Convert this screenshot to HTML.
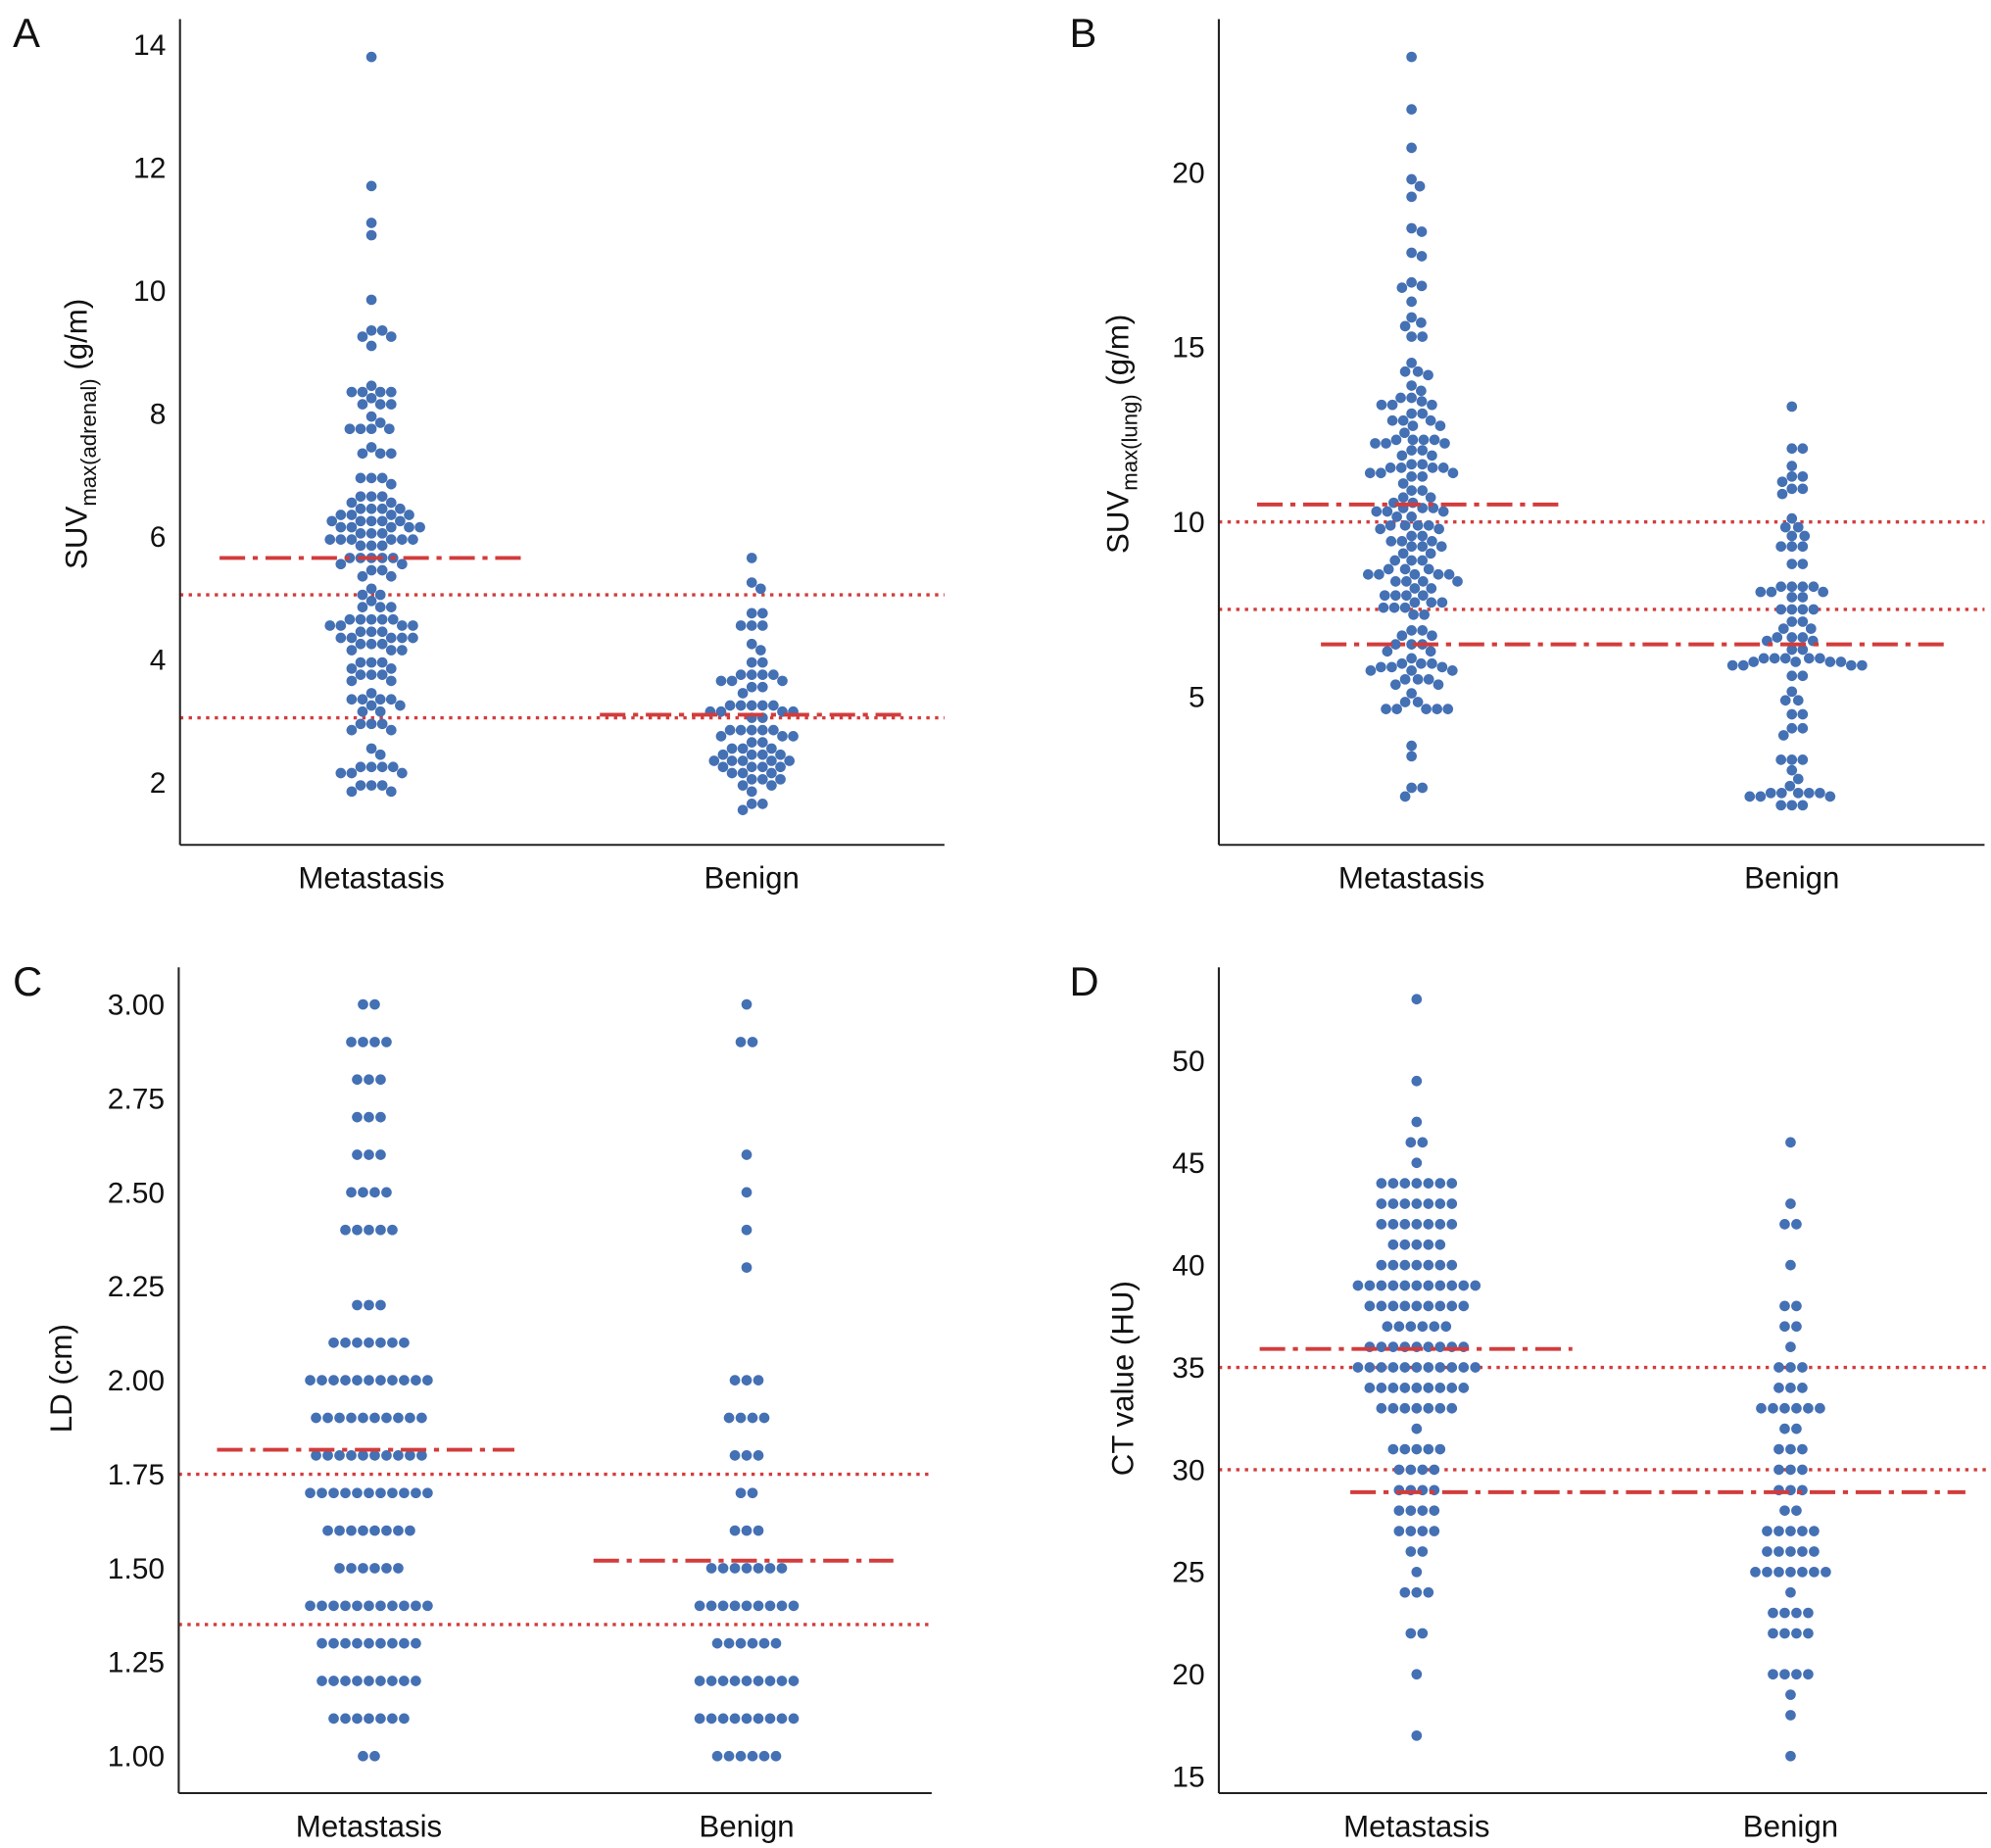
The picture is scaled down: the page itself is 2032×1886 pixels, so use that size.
<!DOCTYPE html>
<html><head><meta charset="utf-8"><style>
html,body{margin:0;padding:0;background:#fff}
svg{display:block}
text{font-family:"Liberation Sans",Arial,sans-serif;fill:#111}
</style></head><body>
<svg id="fig" width="2032" height="1886" viewBox="0 0 1560 1448" xmlns="http://www.w3.org/2000/svg"></svg>
<script>
// ---- Panel A data (SUVmax adrenal) ----
const aMetVals = [13.8,11.7,11.1,10.9,9.85,9.35,9.25,9.1,8.45,8.35,8.25,8.15,7.95,7.85,7.75,7.45,7.35,6.95,6.85,6.65,6.55,6.45,6.35,6.25,6.15,6.05,5.95,5.85,5.65,5.55,5.45,5.35,5.15,5.05,4.95,4.85,4.65,4.55,4.45,4.35,4.25,4.15,3.95,3.85,3.75,3.65,3.45,3.35,3.25,3.15,2.95,2.85,2.55,2.45,2.25,2.15,1.95,1.85];
const aMetCnts = [1,1,1,1,1,2,2,1,1,4,1,3,1,1,4,1,3,3,1,3,2,4,4,5,5,3,6,3,5,2,2,2,1,2,1,3,5,4,3,5,3,3,3,2,3,2,1,4,2,2,3,2,1,1,4,3,3,2];
const aBenVals = [5.65,5.25,5.15,4.75,4.55,4.25,4.15,3.95,3.75,3.65,3.55,3.45,3.25,3.15,3.05,2.85,2.75,2.65,2.55,2.45,2.35,2.25,2.15,2.05,1.95,1.85,1.65,1.55];
const aBenCnts = [1,1,1,2,3,1,1,2,4,3,2,1,5,4,2,5,3,2,3,4,5,4,3,3,2,1,2,1];
const aTicks = [2,4,6,8,10,12,14];
const aMedians = [5.65,3.1];
const aCutoffs = [5.05,3.05];
// ---- Panel B data (SUVmax lung) ----
const bMetVals = [23.3,21.8,20.7,19.8,19.6,19.3,18.4,18.3,17.7,17.6,16.85,16.75,16.7,16.3,15.85,15.7,15.6,15.3,14.55,14.3,14.2,13.9,13.75,13.55,13.45,13.35,13.1,12.9,12.75,12.55,12.35,12.25,12.05,11.9,11.65,11.55,11.4,11.3,11.1,10.9,10.7,10.55,10.4,10.3,10.15,9.9,9.8,9.6,9.45,9.3,9.1,8.9,8.65,8.5,8.3,8.1,7.9,7.7,7.55,7.35,6.9,6.75,6.5,6.3,6.1,5.95,5.85,5.75,5.5,5.35,5.1,4.85,4.65,3.6,3.3,2.4,2.15];
const bMetCnts = [1,1,1,1,1,1,1,1,1,1,1,1,1,1,1,1,1,2,1,2,1,1,1,2,1,3,2,3,2,1,4,3,2,2,2,4,3,2,1,2,2,2,3,3,2,4,2,2,3,3,2,3,3,5,4,2,4,3,3,2,2,2,3,2,1,3,3,3,3,2,1,2,5,1,1,2,1];
const bBenVals = [13.3,12.1,11.6,11.3,11.15,10.95,10.8,10.1,9.85,9.6,9.3,8.8,8.15,8.0,7.85,7.5,7.15,6.95,6.7,6.6,6.35,6.1,6.0,5.9,5.6,5.15,4.9,4.5,4.1,3.9,3.2,2.9,2.65,2.45,2.25,2.15,1.9];
const bBenCnts = [1,2,1,2,1,2,1,1,2,2,3,2,4,3,2,4,2,2,3,2,2,5,4,4,2,1,2,2,2,1,3,1,1,1,5,3,3];
const bTicks = [5,10,15,20];
const bMedians = [10.5,6.5];
const bCutoffs = [10.0,7.5];
// ---- Panel C data (LD cm) ----
const cMetVals = [3.0,2.9,2.8,2.7,2.6,2.5,2.4,2.2,2.1,2.0,1.9,1.8,1.7,1.6,1.5,1.4,1.3,1.2,1.1,1.0];
const cMetCnts = [2,4,3,3,3,4,5,3,7,11,10,10,11,8,6,11,9,9,7,2];
const cBenVals = [3.0,2.9,2.6,2.5,2.4,2.3,2.0,1.9,1.8,1.7,1.6,1.5,1.4,1.3,1.2,1.1,1.0];
const cBenCnts = [1,2,1,1,1,1,3,4,3,2,3,7,9,6,9,9,6];
const cTicks = [1.00,1.25,1.50,1.75,2.00,2.25,2.50,2.75,3.00];
const cMedians = [1.815,1.52];
const cCutoffs = [1.75,1.35];
// ---- Panel D data (CT value HU) ----
const dMetVals = [53,49,47,46,45,44,43,42,41,40,39,38,37,36,35,34,33,32,31,30,29,28,27,26,25,24,22,20,17];
const dMetCnts = [1,1,1,2,1,7,7,7,5,7,11,9,6,9,11,9,7,1,5,4,4,4,4,2,1,3,2,1,1];
const dBenVals = [46,43,42,40,38,37,36,35,34,33,32,31,30,29,28,27,26,25,24,23,22,20,19,18,16];
const dBenCnts = [1,1,2,1,2,2,1,3,3,6,2,3,3,3,2,5,5,7,1,4,4,4,1,1,1];
const dTicks = [15,20,25,30,35,40,45,50];
const dMedians = [35.9,28.9];
const dCutoffs = [35,30];

const NS = "http://www.w3.org/2000/svg";
const svg = document.getElementById('fig');
function el(tag, attrs, parent){
  const e = document.createElementNS(NS, tag);
  for (const k in attrs) e.setAttribute(k, attrs[k]);
  (parent||svg).appendChild(e);
  return e;
}
const DOT = '#4470b4', RED = '#d23c3c', R = 4.1;

function expand(vals, cnts){ const out=[]; vals.forEach((v,i)=>{ for(let j=0;j<cnts[i];j++) out.push(v); }); return out; }

function swarm(vals, cx, y, g, name){
  const pts = vals.map(v=>y(v)).sort((a,b)=>a-b);
  const placed = [];
  const D = 2*R;
  pts.forEach(py=>{
    let best = null;
    for (let k=0;k<200 && best===null;k++){
      const cands = k===0?[0]:[k*0.5,-k*0.5];
      for (const off of cands){
        let ok = true;
        for (const p of placed){ const dx=p[0]-off, dy=p[1]-py; if (dx*dx+dy*dy < D*D){ ok=false; break; } }
        if (ok){ best = off; break; }
      }
    }
    placed.push([best, py]);
  });
  placed.forEach(p=>{
    const c = el('circle',{cx:cx+p[0],cy:p[1],r:R,fill:DOT},g);
    
    
  });
}
function rows(vals, cnts, cx, y, g, name){
  const sp = 9.2;
  vals.forEach((v,i)=>{
    const n = cnts[i];
    for (let j=0;j<n;j++){
      const c = el('circle',{cx:cx+(j-(n-1)/2)*sp,cy:y(v),r:R,fill:DOT},g);
      
      
    }
  });
}

function panel(o){
  const g = el('g',{});
  
  
  const y = v => o.yA + (v - o.vA) * (o.yB - o.yA) / (o.vB - o.vA);
  const L = el('text',{x:o.lx,y:o.ly,'font-size':32},g); L.textContent=o.letter;
   
  o.cutoffs.forEach(v=>{
    const l = el('line',{x1:o.ax,x2:o.right,y1:y(v),y2:y(v),stroke:RED,'stroke-width':2.6,'stroke-dasharray':'2.6,4.2'},g);
     
  });
  if (o.mode==='swarm'){
    swarm(expand(o.metV,o.metC), o.cm, y, g, 'point-metastasis');
    swarm(expand(o.benV,o.benC), o.cb, y, g, 'point-benign');
  } else {
    rows(o.metV,o.metC,o.cm,y,g,'point-metastasis');
    rows(o.benV,o.benC,o.cb,y,g,'point-benign');
  }
  o.medians.forEach((v,i)=>{
    const s = o.medX[i];
    const l = el('line',{x1:s[0],x2:s[1],y1:y(v),y2:y(v),stroke:RED,'stroke-width':3,'stroke-dasharray':'20,6,4,6'},g);
     
  });
  const ya = el('line',{x1:o.ax,x2:o.ax,y1:o.top,y2:o.bot,stroke:'#222','stroke-width':1.6},g);
   
  const xa = el('line',{x1:o.ax,x2:o.right,y1:o.bot,y2:o.bot,stroke:'#222','stroke-width':1.6},g);
   
  o.ticks.forEach(v=>{
    const t = el('text',{x:o.ax-11,y:y(v)+8,'font-size':23,'text-anchor':'end'},g);
    t.textContent = o.fmt(v);
     
  });
  [['Metastasis',o.cm],['Benign',o.cb]].forEach(c=>{
    const t = el('text',{x:c[1],y:o.bot+34,'font-size':24,'text-anchor':'middle'},g);
    t.textContent = c[0];
     
  });
  const tt = el('text',{transform:`translate(${o.tx},${o.ty}) rotate(-90)`,'font-size':24,'text-anchor':'middle'},g);
   
  if (o.sub){
    const a = el('tspan',{},tt); a.textContent = o.title;
    const b = el('tspan',{'font-size':17,dy:7},tt); b.textContent = o.sub;
    const c = el('tspan',{dy:-7},tt); c.textContent = ' ' + o.title2;
  } else tt.textContent = o.title;
}

panel({letter:'A',lx:10,ly:37,ax:141,top:15,bot:662,right:740,cm:291,cb:589,
  vA:14,yA:35,vB:2,yB:613,metV:aMetVals,metC:aMetCnts,benV:aBenVals,benC:aBenCnts,mode:'swarm',
  ticks:aTicks,fmt:v=>String(v),medians:aMedians,medX:[[172,412],[470,710]],cutoffs:aCutoffs,
  tx:68,ty:340,title:'SUV',sub:'max(adrenal)',title2:'(g/m)'});
panel({letter:'B',lx:838,ly:37,ax:955,top:15,bot:662,right:1555,cm:1106,cb:1404,
  vA:20,yA:135,vB:5,yB:546,metV:bMetVals,metC:bMetCnts,benV:bBenVals,benC:bBenCnts,mode:'swarm',
  ticks:bTicks,fmt:v=>String(v),medians:bMedians,medX:[[985,1225],[1035,1527]],cutoffs:bCutoffs,
  tx:884,ty:340,title:'SUV',sub:'max(lung)',title2:'(g/m)'});
panel({letter:'C',lx:10,ly:780,ax:140,top:758,bot:1405,right:730,cm:289,cb:585,
  vA:3,yA:787,vB:1,yB:1376,metV:cMetVals,metC:cMetCnts,benV:cBenVals,benC:cBenCnts,mode:'rows',
  ticks:cTicks,fmt:v=>v.toFixed(2),medians:cMedians,medX:[[170,403],[465,700]],cutoffs:cCutoffs,
  tx:56,ty:1080,title:'LD (cm)'});
panel({letter:'D',lx:838,ly:780,ax:955,top:758,bot:1405,right:1557,cm:1110,cb:1403,
  vA:50,yA:831,vB:15,yB:1392,metV:dMetVals,metC:dMetCnts,benV:dBenVals,benC:dBenCnts,mode:'rows',
  ticks:dTicks,fmt:v=>String(v),medians:dMedians,medX:[[987,1232],[1058,1540]],cutoffs:dCutoffs,
  tx:888,ty:1080,title:'CT value (HU)'});
</script>
</body></html>
